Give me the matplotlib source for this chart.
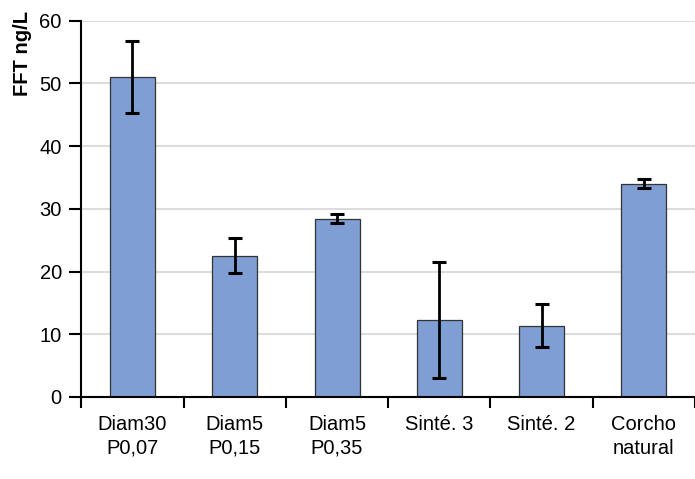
import matplotlib.pyplot as plt

categories = ["Diam30\nP0,07", "Diam5\nP0,15", "Diam5\nP0,35", "Sinté. 3", "Sinté. 2", "Corcho\nnatural"]
fft_means = [51.0, 22.5, 28.4, 12.3, 11.4, 34.0]
fft_errors = [5.7, 2.8, 0.7, 9.2, 3.5, 0.7]
y_ticks = [0, 10, 20, 30, 40, 50, 60]

plt.rcParams['font.family'] = ['Liberation Sans', 'DejaVu Sans']

fig = plt.figure(figsize=(6.95, 4.79), dpi=100)
ax = fig.add_axes([81.3 / 695, 82 / 479, 1 - 81.3 / 695, (397 - 20.7) / 479])

x = list(range(len(categories)))
ax.bar(x, fft_means, width=0.44, color='#7f9ed3', edgecolor='#333333', linewidth=0.9, zorder=2)
ax.errorbar(x, fft_means, yerr=fft_errors, fmt='none', ecolor='black',
            elinewidth=2, capsize=5, capthick=2.2, zorder=3)

ax.set_xlim(-0.5, len(categories) - 0.5)
ax.set_ylim(0, 60)
ax.set_yticks(y_ticks)
ax.set_xticks(x)
ax.set_xticklabels(categories, fontsize=14.5, linespacing=1.3)
ax.set_xticks([i - 0.5 for i in range(len(categories) + 1)], minor=True)
ax.tick_params(axis='x', which='major', length=0, pad=13)
ax.tick_params(axis='x', which='minor', length=8, width=1.5, direction='out')
ax.tick_params(axis='y', labelsize=14.5, length=9, width=1.5, pad=5)

ax.grid(axis='y', color='#dcdcdc', linewidth=1.5, zorder=0)
ax.set_axisbelow(True)
for side in ['top', 'right']:
    ax.spines[side].set_visible(False)
ax.spines['left'].set_linewidth(1.5)
ax.spines['bottom'].set_linewidth(1.5)

fig.text(22 / 695, 1 - 54 / 479, "FFT ng/L", rotation=90, fontsize=14.5,
         fontweight='bold', ha='center', va='center')

fig.savefig('out.png', dpi=100)
